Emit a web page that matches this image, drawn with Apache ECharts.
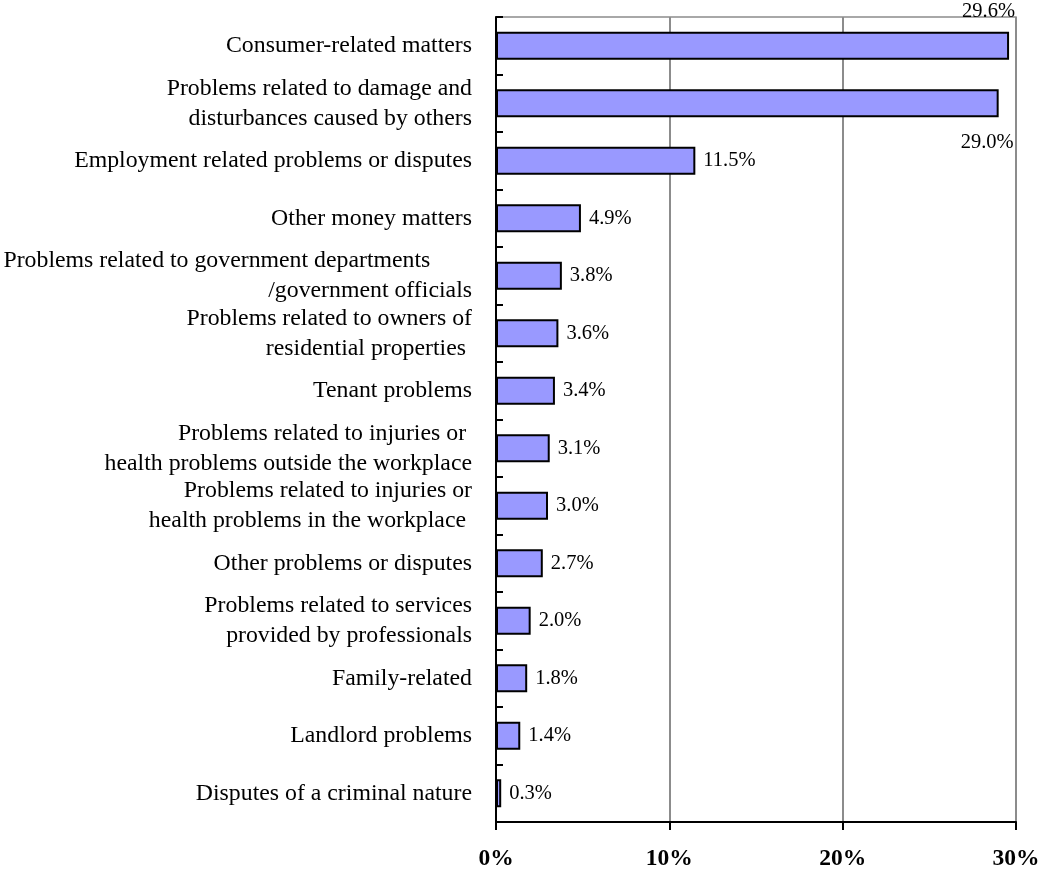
<!DOCTYPE html>
<html>
<head>
<meta charset="utf-8">
<script src="https://cdn.jsdelivr.net/npm/echarts@6/dist/echarts.min.js"></script>
<style>html,body{margin:0;padding:0;background:#fff;}#c{width:1054px;height:870px;}</style>
</head>
<body>
<div id="c"></div>
<script>
const categories = [
  'Consumer-related matters',
  'Problems related to damage and\ndisturbances caused by others',
  'Employment related problems or disputes',
  'Other money matters',
  'Problems related to government departments       \n/government officials',
  'Problems related to owners of\nresidential properties ',
  'Tenant problems',
  'Problems related to injuries or \nhealth problems outside the workplace',
  'Problems related to injuries or\nhealth problems in the workplace ',
  'Other problems or disputes',
  'Problems related to services\nprovided by professionals',
  'Family-related',
  'Landlord problems',
  'Disputes of a criminal nature'
];
const values = [29.6, 29.0, 11.5, 4.9, 3.8, 3.6, 3.4, 3.1, 3.0, 2.7, 2.0, 1.8, 1.4, 0.3];
const xTicks = [0, 10, 20, 30];

const FONT = '"Liberation Serif", "Times New Roman", serif';
const chart = echarts.init(document.getElementById('c'));
const data = values.map((v, i) => {
  const d = { value: v };
  if (i === 0) d.label = { position: ['100%', -20], align: 'right', verticalAlign: 'middle', offset: [6, 0] };
  if (i === 1) d.label = { position: ['100%', 53], align: 'right', verticalAlign: 'middle', offset: [15, 0] };
  return d;
});
chart.setOption({
  animation: false,
  grid: { left: 496, right: 38, top: 17, bottom: 48, containLabel: false, outerBoundsMode: 'none', show: true, borderColor: '#8c8c8c', borderWidth: 1.5 },
  xAxis: {
    type: 'value', min: 0, max: 30, interval: 10,
    axisLine: { show: true, lineStyle: { color: '#000', width: 2 } },
    axisTick: { show: true, length: 8, lineStyle: { color: '#000', width: 2 } },
    splitLine: { show: true, lineStyle: { color: '#8c8c8c', width: 2 } },
    axisLabel: { formatter: v => xTicks.includes(v) ? v + '%' : '', fontFamily: FONT, fontSize: 23.5, fontWeight: 'bold', color: '#000', margin: 25 }
  },
  yAxis: {
    type: 'category', data: categories, inverse: true,
    axisLine: { show: true, lineStyle: { color: '#000', width: 2 } },
    axisTick: { show: true, inside: true, length: 7, lineStyle: { color: '#000', width: 2 } },
    axisLabel: { fontFamily: FONT, fontSize: 23.8, color: '#000', margin: 24, lineHeight: 30, interval: 0 }
  },
  series: [{
    type: 'bar', data: data, barWidth: 28,
    itemStyle: { color: '#9999FF', borderColor: '#000', borderWidth: 2 },
    label: { show: true, position: 'right', distance: 8, fontFamily: FONT, fontSize: 20.5, color: '#000', formatter: p => p.value.toFixed(1) + '%' }
  }]
});
</script>
</body>
</html>
